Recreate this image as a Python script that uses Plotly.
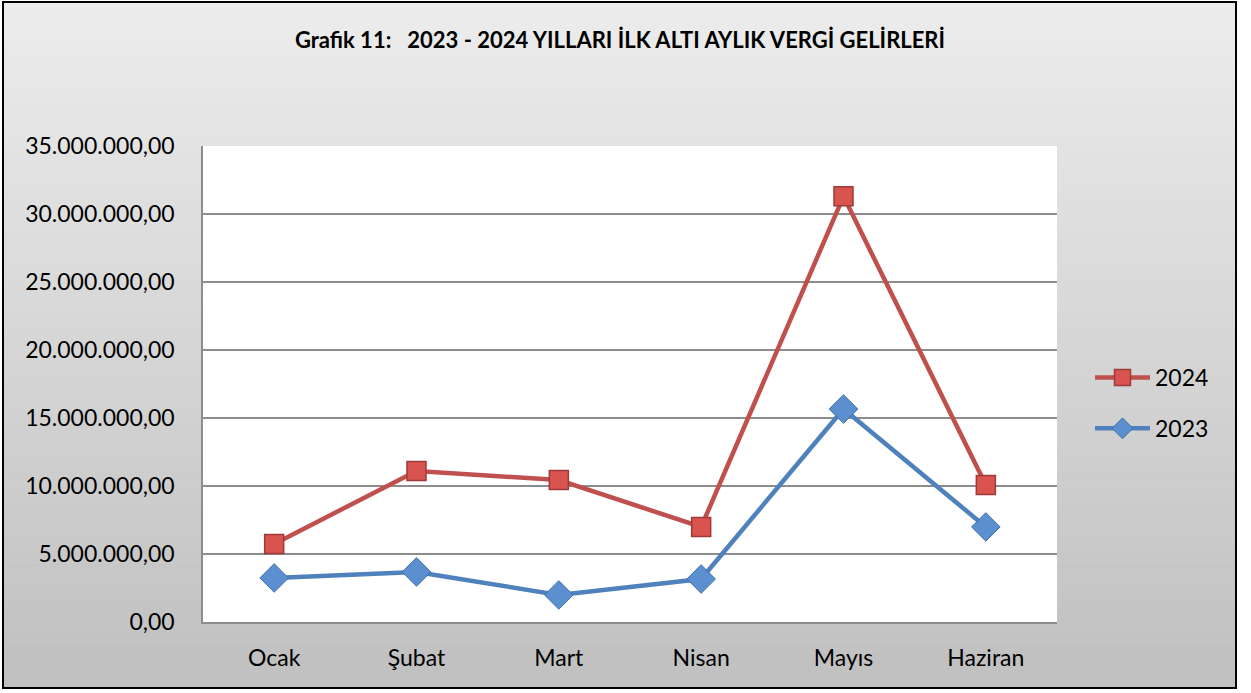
import plotly.graph_objects as go

months = ["Ocak", "Şubat", "Mart", "Nisan", "Mayıs", "Haziran"]
y2024 = [5740000, 11100000, 10440000, 6990000, 31300000, 10070000]
y2023 = [3240000, 3680000, 1990000, 3160000, 15660000, 6990000]
series_names = ["2024", "2023"]

W, H = 1251, 693
ML, MR, MT, MB = 203, 194, 146, 71
PW, PH = W - ML - MR, H - MT - MB

def px_x(p):
    return (p - ML) / PW

def px_y(p):
    return (H - MB - p) / PH

FONT = "Lato, Open Sans, sans-serif"

fig = go.Figure()
fig.add_trace(go.Scatter(
    x=months, y=y2024, name=series_names[0], mode="lines+markers",
    legendgroup="a",
    line=dict(color="#C0504D", width=4.5),
    marker=dict(symbol="square", size=19, color="#D9534F",
                line=dict(color="#9E3B38", width=1.5)),
))
fig.add_trace(go.Scatter(
    x=months, y=y2023, name=series_names[1], mode="lines+markers",
    legendgroup="b",
    line=dict(color="#4F81BD", width=4.5),
    marker=dict(symbol="diamond", size=22, color="#5B8FCF",
                line=dict(color="#3F6FA8", width=1)),
))

shapes = []
x0f, x1f = px_x(3), px_x(1236)
ytop, ybot = 2, 688
n = 60
c_top = (236, 236, 236)
c_bot = (192, 192, 192)
for i in range(n):
    t = i / (n - 1)
    c = tuple(int(round(c_top[k] + (c_bot[k] - c_top[k]) * t)) for k in range(3))
    ya = ytop + (ybot - ytop) * i / n
    yb = ytop + (ybot - ytop) * (i + 1) / n + 0.6
    shapes.append(dict(type="rect", xref="paper", yref="paper",
                       x0=x0f, x1=x1f, y0=px_y(yb), y1=px_y(ya),
                       fillcolor="rgb(%d,%d,%d)" % c, line=dict(width=0),
                       layer="below"))
shapes.append(dict(type="rect", xref="paper", yref="paper", x0=0, x1=1, y0=0, y1=1,
                   fillcolor="white", line=dict(width=0), layer="below"))
shapes.append(dict(type="rect", xref="paper", yref="paper",
                   x0=x0f, x1=x1f, y0=px_y(ybot), y1=px_y(ytop),
                   fillcolor="rgba(0,0,0,0)", line=dict(color="black", width=2),
                   layer="above"))

fig.update_layout(
    width=W, height=H,
    margin=dict(l=ML, r=MR, t=MT, b=MB),
    paper_bgcolor="white",
    plot_bgcolor="rgba(0,0,0,0)",
    separators=",.",
    font=dict(family=FONT, color="black", size=23),
    title=dict(text="<b>Grafik 11:   2023 - 2024 YILLARI İLK ALTI AYLIK VERGİ GELİRLERİ</b>",
               x=620 / W, xanchor="center", y=1 - 40 / H, yanchor="middle",
               font=dict(size=22, family=FONT)),
    shapes=shapes,
    showlegend=True,
    legend=dict(x=px_x(1090), y=px_y(403), xanchor="left", yanchor="middle",
                bgcolor="rgba(0,0,0,0)", font=dict(size=23),
                traceorder="grouped", tracegroupgap=18, itemwidth=55),
)
fig.update_xaxes(range=[-0.5, 5.5], showgrid=False, showline=True,
                 linecolor="#8c8c8c", linewidth=1.5, ticks="outside", ticklen=15,
                 tickcolor="rgba(0,0,0,0)", tickfont=dict(size=23), zeroline=False)
fig.update_yaxes(range=[0, 35000000], dtick=5000000, tickformat=",.2f",
                 showgrid=True, gridcolor="#8c8c8c", gridwidth=1.5,
                 showline=True, linecolor="#8c8c8c", linewidth=1.5,
                 ticks="outside", ticklen=22, tickcolor="rgba(0,0,0,0)",
                 tickfont=dict(size=23), zeroline=False)

fig.write_html("out.html", config={"displayModeBar": False},
               post_script="document.body.style.margin='0';document.body.style.overflow='hidden';")
